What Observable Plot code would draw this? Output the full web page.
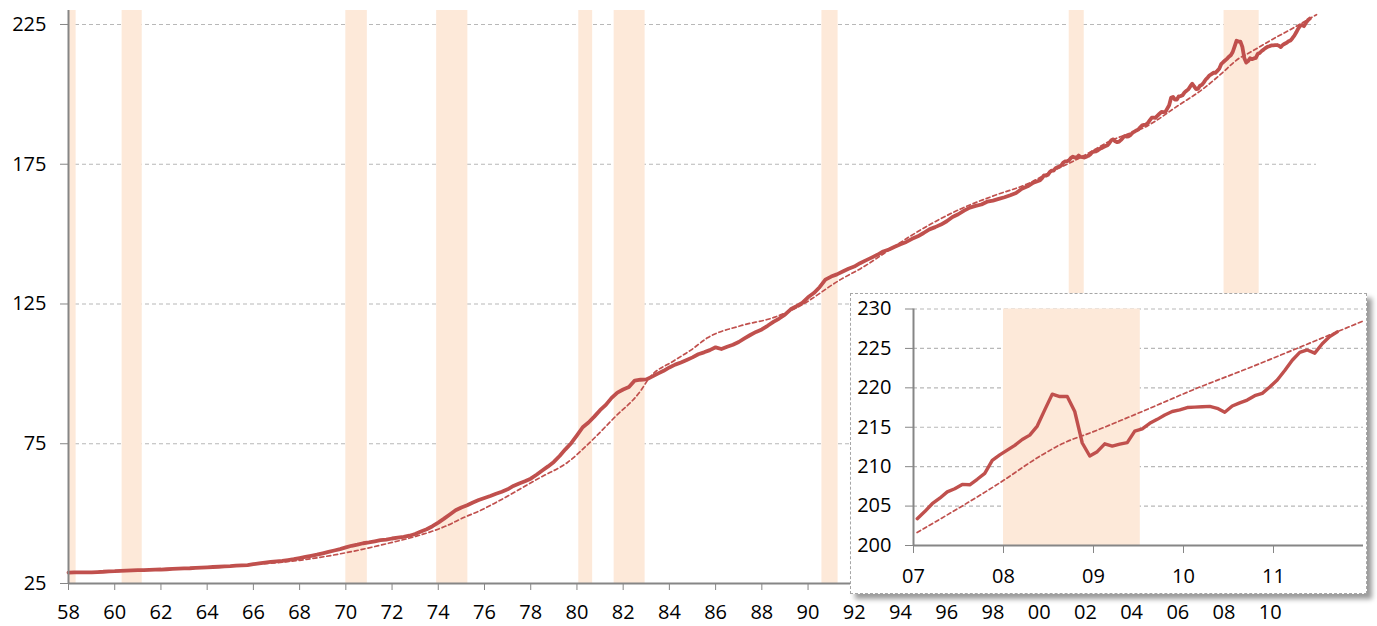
<!DOCTYPE html>
<html>
<head>
<meta charset="utf-8">
<script src="https://cdn.jsdelivr.net/npm/d3@7"></script>
<script src="https://cdn.jsdelivr.net/npm/@observablehq/plot@0.6"></script>
<style>
  html, body { margin: 0; padding: 0; background: #fff; }
  #wrap { position: relative; width: 1377px; height: 626px; overflow: hidden; }
  #main { position: absolute; left: 0; top: 0; }
  #inset { position: absolute; left: 850px; top: 293px; width: 515px; height: 299px;
           border: 1.5px dashed #a6a6a6; background: #fff;
           box-shadow: 5px 5px 5px rgba(0,0,0,0.4); }
  svg text { fill: #000; }
</style>
</head>
<body>
<div id="wrap"><div id="main"></div><div id="inset"></div></div>
<script>
// ---- Data ----
// CPI, quarterly 1958Q1 .. 1999Q4
const quarterlyStartYear = 1958;
const cpiQuarterly = [
  28.9, 29.0, 29.0, 29.0,   29.0, 29.1, 29.2, 29.35,  29.4, 29.5, 29.6, 29.7,
  29.8, 29.8, 29.9, 29.95,  30.0, 30.1, 30.2, 30.3,   30.4, 30.45, 30.6, 30.7,
  30.8, 30.9, 31.0, 31.1,   31.2, 31.4, 31.5, 31.6,   31.9, 32.2, 32.5, 32.7,
  32.9, 33.1, 33.4, 33.7,   34.1, 34.5, 34.9, 35.3,   35.8, 36.3, 36.8, 37.3,
  37.9, 38.5, 38.9, 39.4,   39.7, 40.1, 40.5, 40.7,   41.1, 41.4, 41.7, 42.1,
  42.7, 43.6, 44.4, 45.5,   46.8, 48.2, 49.7, 51.2,   52.2, 53.0, 54.0, 54.9,
  55.6, 56.3, 57.1, 57.8,   58.7, 59.9, 60.8, 61.6,   62.5, 63.9, 65.4, 66.9,
  68.5, 70.6, 73.0, 75.2,   78.0, 80.9, 82.6, 84.7,   87.0, 88.9, 91.4, 93.3,
  94.4, 95.3, 97.6, 97.9,   98.0, 99.0, 100.1, 101.1, 102.3, 103.3, 104.1, 105.0,
  105.9, 107.0, 107.7, 108.5, 109.5, 108.9, 109.7, 110.4, 111.4, 112.7, 113.9, 115.0,
  115.9, 117.2, 118.6, 119.8, 121.2, 123.1, 124.2, 125.4, 127.4, 128.9, 131.0, 133.7,
  134.8, 135.6, 136.6, 137.6, 138.4, 139.6, 140.6, 141.6, 142.6, 143.8, 144.5, 145.5,
  146.4, 147.2, 148.3, 149.2, 150.4, 151.7, 152.5, 153.4, 154.6, 156.1, 157.1, 158.4,
  159.5, 160.1, 160.6, 161.6, 162.0, 162.6, 163.2, 163.9, 164.7, 166.2, 167.1, 168.4
];
// CPI, monthly Jan 2000 .. Sep 2011
const monthlyStartYear = 2000;
const cpiMonthly = [
  169.3, 170.0, 171.0, 170.9, 171.2, 172.2, 172.7, 172.7, 173.6, 173.9, 174.2, 174.6,
  175.6, 176.0, 176.1, 176.4, 177.3, 177.7, 177.4, 177.4, 178.1, 177.6, 177.5, 177.4,
  177.7, 178.0, 178.5, 179.3, 179.5, 179.6, 180.0, 180.5, 180.8, 181.2, 181.5, 181.8,
  182.6, 183.6, 183.9, 183.2, 182.9, 183.1, 183.7, 184.5, 185.1, 184.9, 185.0, 185.5,
  186.3, 186.7, 187.1, 187.4, 188.2, 188.9, 189.1, 189.2, 189.8, 190.8, 191.7, 191.7,
  191.6, 192.4, 193.1, 193.7, 193.6, 193.7, 194.9, 196.1, 198.8, 199.1, 198.1, 198.1,
  199.3, 199.4, 199.7, 200.7, 201.3, 201.8, 202.9, 203.8, 202.8, 201.9, 202.0, 203.1,
  203.4, 204.3, 205.3, 206.0, 206.8, 207.2, 207.75, 207.7, 208.4, 209.15, 210.8, 211.5,
  212.1, 212.7, 213.45, 214.0, 215.15, 217.2, 219.2, 218.9, 218.9, 217.0, 213.0, 211.35,
  211.9, 212.9, 212.6, 212.85, 213.05, 214.5, 214.8, 215.5, 216.0, 216.55, 217.0, 217.2,
  217.5, 217.55, 217.6, 217.65, 217.4, 216.9, 217.7, 218.1, 218.45, 219.0, 219.3, 220.1,
  221.0, 222.2, 223.5, 224.5, 224.8, 224.4, 225.6, 226.5, 227.1
];
// Trend (dashed line)
const trendYears = [1958, 1960, 1962, 1964, 1966, 1968, 1970, 1972, 1973, 1974.4, 1975.1,
  1975.84, 1976.5, 1978.43, 1979.59, 1980.6, 1981.6, 1982.76, 1983.1, 1984.2, 1984.93,
  1985.65, 1987.08, 1988.53, 1989.54, 1991.42, 1992.3, 1993.58, 1994.45, 1996.6, 1998.06,
  1999.5, 2000.4, 2001.67, 2003.1, 2004.7, 2006.0, 2007.04, 2007.96, 2008.43, 2008.65,
  2008.99, 2009.5, 2010.16, 2010.7, 2011.26, 2012.0];
const trendValues = [28.7, 29.3, 30.0, 30.8, 31.8, 33.3, 36.0, 39.7, 41.8, 45.8, 48.6,
  51.2, 54.0, 63.0, 68.3, 75.8, 84.2, 94.0, 98.2, 104.7, 108.5,
  112.9, 117.2, 120.2, 123.8, 133.8, 137.8, 144.7, 149.4, 159.0, 163.8,
  168.0, 171.8, 176.9, 183.4, 188.8, 195.9, 201.65, 207.96, 211.5, 212.9,
  214.4, 216.8, 220.0, 222.4, 225.0, 228.5];
// Recessions (shaded)
const recessionStarts = [1958.0, 1960.32, 1970.0, 1973.93, 1980.08, 1981.61, 1990.6, 2001.3, 2008.0];
const recessionEnds   = [1958.33, 1961.19, 1970.93, 1975.28, 1980.68, 1982.95, 1991.3, 2001.95, 2009.52];
// Axes ticks
const mainYTicks = [25, 75, 125, 175, 225];
const mainXTicks = d3.range(1958, 2011, 2);
const insetYTicks = [200, 205, 210, 215, 220, 225, 230];
const insetXTicks = [2007, 2008, 2009, 2010, 2011];

// ---- Build tables ----
const cpi = [
  ...cpiQuarterly.map((v, i) => ({x: quarterlyStartYear + i / 4, y: v})),
  ...cpiMonthly.map((v, j) => ({x: monthlyStartYear + j / 12 + 1 / 24, y: v}))
];
const trend = trendYears.map((x, i) => ({x, y: trendValues[i]}));
const recessions = recessionStarts.map((s, i) => ({s, e: recessionEnds[i]}));
const yy = d => String(d % 100).padStart(2, "0");

const RED = "#c0504d", FILL = "#fde9d9", GRID = "#b8b8b8", AXIS = "#868686";
const style = {fontFamily: "'Open Sans', Lato, sans-serif", fontSize: "20px", color: AXIS, background: "transparent", overflow: "visible"};

const main = Plot.plot({
  width: 1377, height: 626,
  marginLeft: 68, marginRight: 61, marginTop: 10, marginBottom: 43,
  style,
  x: {domain: [1958, 2012], ticks: mainXTicks, tickFormat: yy, tickSize: 7, tickPadding: 14, label: null},
  y: {domain: [25, 230], ticks: mainYTicks, tickSize: 8, tickPadding: 14, label: null},
  marks: [
    Plot.ruleY(mainYTicks.slice(1), {stroke: GRID, strokeWidth: 1.2, strokeDasharray: "4,3"}),
    Plot.rect(recessions, {x1: "s", x2: "e", y1: 25, y2: 230, fill: FILL}),
    Plot.line(trend, {x: "x", y: "y", stroke: RED, strokeWidth: 1.7, strokeDasharray: "4,3", curve: "monotone-x"}),
    Plot.line(cpi, {x: "x", y: "y", stroke: RED, strokeWidth: 3.8, strokeLinejoin: "round"}),
    Plot.ruleX([1958], {stroke: AXIS, strokeWidth: 2}),
    Plot.ruleY([25], {stroke: AXIS, strokeWidth: 2})
  ]
});
document.getElementById("main").appendChild(main);

const inCpi = cpi.filter(d => d.x >= 2007);
const inTrend = trend.filter(d => d.x >= 2007);
const inset = Plot.plot({
  width: 515, height: 299,
  marginLeft: 62, marginRight: 3, marginTop: 14.5, marginBottom: 48,
  style,
  x: {domain: [2007, 2012], ticks: insetXTicks, tickFormat: yy, tickSize: 8, tickPadding: 15, label: null},
  y: {domain: [200, 230], ticks: insetYTicks, tickSize: 8, tickPadding: 14, label: null},
  marks: [
    Plot.ruleY(insetYTicks.slice(1), {stroke: GRID, strokeWidth: 1.2, strokeDasharray: "4,3"}),
    Plot.rect(recessions.filter(d => d.s >= 2007), {x1: "s", x2: "e", y1: 200, y2: 230, fill: FILL}),
    Plot.line(inTrend, {x: "x", y: "y", stroke: RED, strokeWidth: 1.7, strokeDasharray: "4,3", curve: "monotone-x"}),
    Plot.line(inCpi, {x: "x", y: "y", stroke: RED, strokeWidth: 3.4, strokeLinejoin: "round"}),
    Plot.ruleX([2007], {stroke: AXIS, strokeWidth: 2}),
    Plot.ruleY([200], {stroke: AXIS, strokeWidth: 2})
  ]
});
document.getElementById("inset").appendChild(inset);
</script>
</body>
</html>
